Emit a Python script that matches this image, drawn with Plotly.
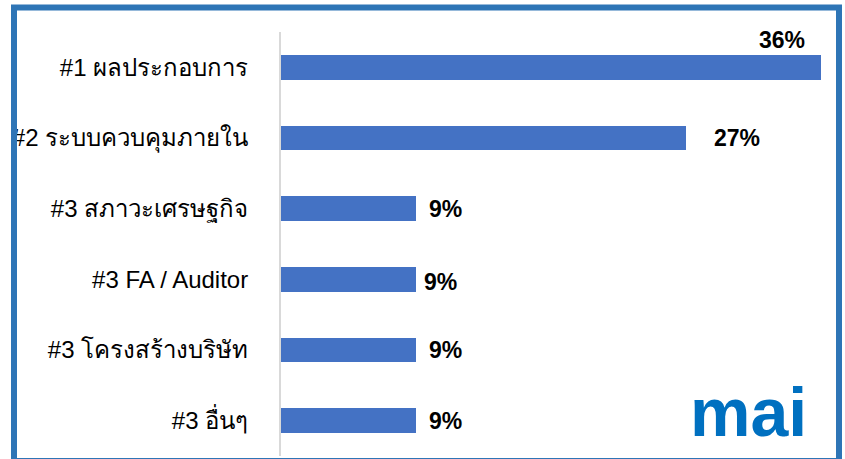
"""
Horizontal bar chart: top reasons (Thai labels) with mai logo text
"""
import plotly.graph_objects as go

categories = [
    '#1 ผลประกอบการ',
    '#2 ระบบควบคุมภายใน',
    '#3 สภาวะเศรษฐกิจ',
    '#3 FA / Auditor',
    '#3 โครงสร้างบริษัท',
    '#3 อื่นๆ',
]
values = [36, 27, 9, 9, 9, 9]
value_labels = ['36%', '27%', '9%', '9%', '9%', '9%']

BAR_COLOR = '#4472C4'
FRAME_COLOR = '#2E75B6'
FONT = 'Liberation Sans, Arial, sans-serif'

# plot area in pixels (845 x 459 page)
L, R, T, B = 281, 24, 32, 3
PW = 845 - L - R
PH = 459 - T - B


def px_x(px):
    return (px - L) / PW


def px_y(py):
    return (459 - B - py) / PH


fig = go.Figure()

fig.add_trace(go.Bar(
    x=values,
    y=categories,
    orientation='h',
    width=0.35,
    marker=dict(color=BAR_COLOR, line=dict(width=0)),
    hoverinfo='skip',
))

# value labels: the largest sits above its bar end, the rest to the right
for i, (cat, val, lab) in enumerate(zip(categories, values, value_labels)):
    if i == 0:
        ann = dict(xanchor='right', xshift=-14, yshift=27)
    elif i == 1:
        ann = dict(xanchor='left', xshift=26, yshift=0)
    elif i == 3:
        ann = dict(xanchor='left', xshift=6, yshift=-3)
    else:
        ann = dict(xanchor='left', xshift=11, yshift=0)
    fig.add_annotation(
        x=val, y=cat, text=lab, showarrow=False,
        font=dict(family=FONT, size=23, color='black', weight='bold'),
        yanchor='middle', **ann
    )

# mai logo text
fig.add_annotation(
    x=px_x(748), y=px_y(412), xref='paper', yref='paper',
    text='mai', showarrow=False,
    xanchor='center', yanchor='middle',
    font=dict(family=FONT, size=68, color='#0070C0', weight='bold'),
)

# outer blue frame
fig.add_shape(
    type='rect', xref='paper', yref='paper',
    x0=px_x(14), x1=px_x(839), y0=px_y(461), y1=px_y(7.5),
    line=dict(color=FRAME_COLOR, width=6), layer='above',
)

fig.update_layout(
    width=845,
    height=459,
    margin=dict(l=L, r=R, t=T, b=B),
    paper_bgcolor='white',
    plot_bgcolor='white',
    showlegend=False,
    bargap=0,
    font=dict(family=FONT, size=24, color='black'),
)

fig.update_xaxes(
    range=[0, 36],
    visible=False,
    fixedrange=True,
)

fig.update_yaxes(
    autorange='reversed',
    showline=True,
    linecolor='#D9D9D9',
    linewidth=2,
    showgrid=False,
    ticks='',
    ticklabelstandoff=26,
    tickfont=dict(family=FONT, size=24, color='black'),
    fixedrange=True,
)

# page body has a default 8px margin; drop it so the figure sits at 0,0
fig.write_html(
    'out.html',
    config={'displayModeBar': False},
    post_script="document.body.style.margin='0';",
)
